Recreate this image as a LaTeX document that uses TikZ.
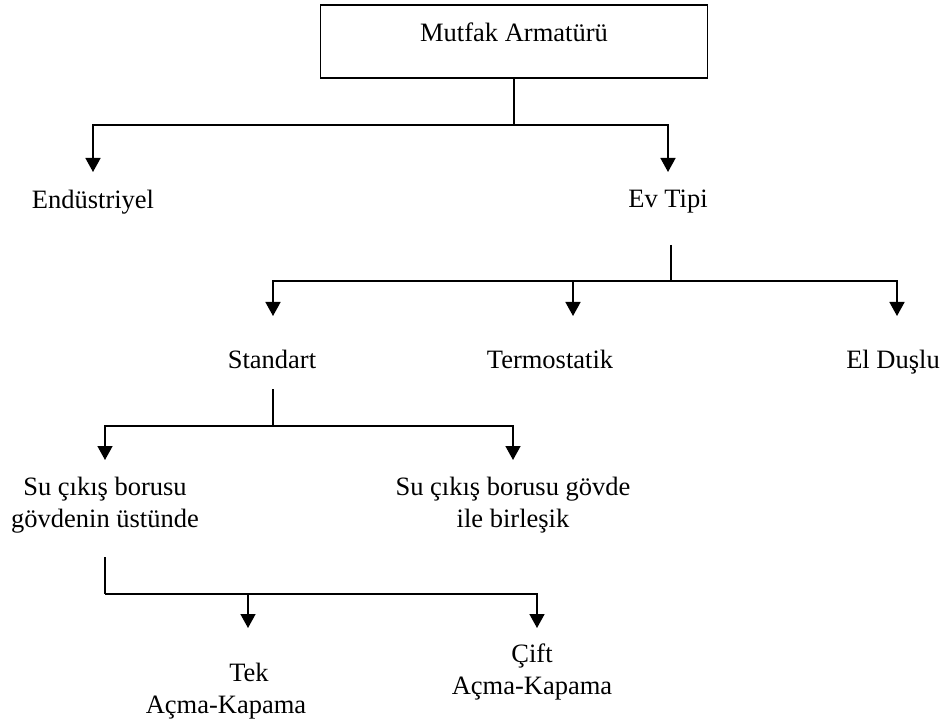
\documentclass[tikz,border=0pt]{standalone}
\usepackage{fontspec}
\setmainfont{Liberation Serif}
\usetikzlibrary{arrows.meta}
\begin{document}
\begin{tikzpicture}[x=1pt,y=-1pt,
  conn/.style={line width=1.6pt},
  arr/.style={conn,-{Triangle[width=15pt,length=14pt]}},
  lbl/.style={font=\fontsize{26.5}{32}\selectfont, inner sep=0pt, anchor=base, align=center},
  boxn/.style={draw, line width=1.6pt, minimum width=387pt, minimum height=73pt, inner sep=0pt,
    font=\fontsize{26.5}{32}\selectfont, text height=18pt, text depth=17pt}]
\useasboundingbox (0,0) rectangle (948,719);
\node[boxn] (root) at (514,41.5) {Mutfak Armatürü};
% level 1
\coordinate (j1) at (514,125);
\coordinate (endin) at (93,172);
\coordinate (evin) at (668,172);
\node[lbl] (end) at (93,209) {Endüstriyel};
\node[lbl] (ev) at (668,208) {Ev Tipi};
\draw[conn] (root.south) -- (j1);
\draw[arr] (j1) -| (endin);
\draw[arr] (j1) -| (evin);
% level 2
\coordinate (evout) at (671,245);
\coordinate (j2) at (671,281);
\coordinate (stdin) at (273,316);
\coordinate (termin) at (573,316);
\coordinate (elin) at (897,316);
\node[lbl] (std) at (272,369) {Standart};
\node[lbl] (term) at (550,369) {Termostatik};
\node[lbl] (el) at (893,369) {El Duşlu};
\draw[conn] (evout) -- (j2);
\draw[arr] (j2) -| (stdin);
\draw[arr] (j2) -| (termin);
\draw[arr] (j2) -| (elin);
% level 3
\coordinate (stdout) at (273,389);
\coordinate (j3) at (273,426);
\coordinate (su1in) at (105,460);
\coordinate (su2in) at (513,460);
\node[lbl] (su1) at (105,527) {Su çıkış borusu\\gövdenin üstünde};
\node[lbl] (su2) at (513,527) {Su çıkış borusu gövde\\ile birleşik};
\draw[conn] (stdout) -- (j3);
\draw[arr] (j3) -| (su1in);
\draw[arr] (j3) -| (su2in);
% level 4
\coordinate (su1out) at (105,557);
\coordinate (j4) at (105,594);
\coordinate (tekin) at (248,628);
\coordinate (ciftin) at (537,628);
\node[lbl] (tek) at (226,713) {\hspace*{46pt}Tek\\Açma-Kapama};
\node[lbl] (cift) at (532,694) {Çift\\Açma-Kapama};
\draw[conn] (su1out) -- (j4);
\draw[arr] (j4) -| (ciftin);
\draw[arr] (j4) -| (tekin);
\end{tikzpicture}
\end{document}
